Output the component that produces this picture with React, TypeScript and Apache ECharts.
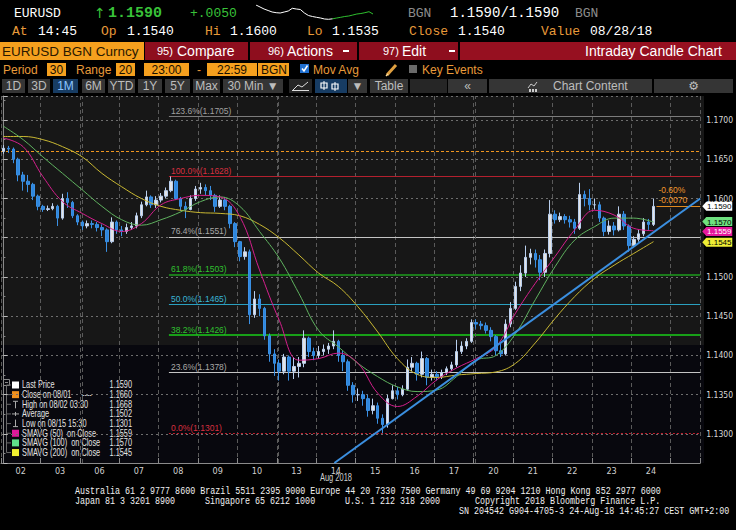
import React, { useEffect, useRef } from "react";
import * as echarts from "echarts";

// ---------------- data ----------------
const dayLabels = ["02", "03", "06", "07", "08", "09", "10", "13", "14", "15", "16", "17", "20", "21", "22", "23", "24"];
const slotsPerDay = 8; // 3-hour candles
const totalSlots = 142;
const firstOpen = 1.166;

const closes = [
  1.1664, 1.1663, 1.165, 1.163, 1.1622, 1.1618, 1.1603, 1.159,
  1.1586, 1.1587, 1.159, 1.1575, 1.16, 1.1595, 1.1578, 1.157,
  1.1565, 1.1568, 1.1567, 1.1563, 1.156, 1.1545, 1.157, 1.156,
  1.1558, 1.1563, 1.1565, 1.1578, 1.1592, 1.1602, 1.1592, 1.1598,
  1.1603, 1.161, 1.1622, 1.16, 1.159, 1.1586, 1.16, 1.1612,
  1.1614, 1.161, 1.1604, 1.159, 1.1598, 1.159, 1.1568, 1.1545,
  1.1526, 1.1532, 1.1452, 1.1472, 1.146, 1.1425, 1.1402, 1.139,
  1.138, 1.1398, 1.138, 1.1386, 1.139, 1.1422, 1.1405, 1.14,
  1.1405, 1.1408, 1.1412, 1.1418, 1.14, 1.1392, 1.1362, 1.135,
  1.135, 1.1345, 1.133, 1.1336, 1.132, 1.1312, 1.1345, 1.1355,
  1.135, 1.1357, 1.1385, 1.139, 1.1376, 1.1396, 1.1372, 1.1376,
  1.1373, 1.1378, 1.1383, 1.1388, 1.1405, 1.1412, 1.1418, 1.1442,
  1.144, 1.1438, 1.1432, 1.1424, 1.1406, 1.1402, 1.144, 1.146,
  1.1488, 1.1505, 1.1525, 1.153, 1.1522, 1.1506, 1.153, 1.158,
  1.1573, 1.1577, 1.1573, 1.157, 1.1562, 1.1605, 1.16, 1.1592,
  1.1592, 1.1575, 1.1558, 1.1565, 1.156, 1.158, 1.1565, 1.154,
  1.1548, 1.1555, 1.157, 1.1567, 1.159,
];
const highs = [
  1.1668, 1.1667, 1.1665, 1.1652, 1.1634, 1.163, 1.162, 1.1605,
  1.1592, 1.1591, 1.1594, 1.1592, 1.1606, 1.1608, 1.1597, 1.158,
  1.1572, 1.1572, 1.1572, 1.157, 1.1567, 1.1562, 1.1576, 1.1572,
  1.1565, 1.1568, 1.157, 1.1582, 1.1596, 1.161, 1.1604, 1.1603,
  1.1607, 1.1614, 1.1628, 1.1624, 1.1602, 1.1596, 1.1604, 1.1616,
  1.162, 1.1618, 1.1616, 1.1606, 1.1604, 1.1602, 1.1592, 1.157,
  1.1546, 1.1538, 1.1535, 1.1482, 1.1478, 1.1462, 1.1428, 1.1408,
  1.1395, 1.1402, 1.14, 1.1398, 1.1398, 1.1432, 1.1424, 1.141,
  1.1412, 1.1414, 1.1416, 1.1432, 1.142, 1.1406, 1.1395, 1.1366,
  1.1358, 1.1355, 1.135, 1.1345, 1.134, 1.1325, 1.135, 1.1362,
  1.136, 1.1362, 1.1395, 1.1398, 1.1392, 1.1405, 1.1398, 1.1382,
  1.138, 1.1382, 1.1386, 1.1392, 1.142, 1.1418, 1.1422, 1.1446,
  1.1446, 1.1444, 1.1442, 1.1436, 1.1426, 1.1415, 1.1446, 1.1468,
  1.1494, 1.1515, 1.154, 1.1536, 1.1535, 1.1528, 1.1535, 1.1598,
  1.1585, 1.1582, 1.158, 1.1578, 1.1574, 1.162, 1.161, 1.1612,
  1.16, 1.1596, 1.1577, 1.1572, 1.157, 1.159, 1.1584, 1.1567,
  1.1552, 1.156, 1.1575, 1.1574, 1.16,
];
const lows = [
  1.1657, 1.1658, 1.1645, 1.1622, 1.161, 1.1608, 1.1598, 1.1585,
  1.1583, 1.1584, 1.1585, 1.1565, 1.1573, 1.1588, 1.1575, 1.1566,
  1.156, 1.1562, 1.1562, 1.1558, 1.1552, 1.1532, 1.1543, 1.1555,
  1.1552, 1.1555, 1.156, 1.1562, 1.1575, 1.159, 1.1588, 1.1588,
  1.1595, 1.16, 1.1608, 1.1598, 1.1584, 1.1575, 1.1585, 1.1597,
  1.1606, 1.1604, 1.1598, 1.1583, 1.1588, 1.1585, 1.1562, 1.1538,
  1.152, 1.1522, 1.144, 1.1448, 1.145, 1.142, 1.1392, 1.1374,
  1.1368, 1.1376, 1.1368, 1.137, 1.1372, 1.1385, 1.1398, 1.1394,
  1.1396, 1.14, 1.1402, 1.1408, 1.1392, 1.138, 1.1355, 1.134,
  1.1342, 1.1336, 1.1322, 1.1325, 1.1313, 1.1301, 1.1308, 1.1344,
  1.1344, 1.1348, 1.1355, 1.138, 1.1368, 1.1372, 1.1362, 1.1368,
  1.1368, 1.137, 1.1375, 1.138, 1.1385, 1.1402, 1.1408, 1.1416,
  1.1434, 1.1433, 1.1428, 1.1418, 1.14, 1.1398, 1.14, 1.1436,
  1.1458, 1.1482, 1.15, 1.1516, 1.1512, 1.1496, 1.15, 1.1525,
  1.1568, 1.157, 1.1568, 1.1563, 1.1555, 1.156, 1.159, 1.1585,
  1.1586, 1.157, 1.1552, 1.1554, 1.1553, 1.1558, 1.156, 1.1532,
  1.1538, 1.1545, 1.1552, 1.156, 1.1565,
];

// moving averages read every 4 slots (slot index -> value)
const maSlots = [0, 4, 8, 12, 16, 20, 24, 28, 32, 36, 40, 44, 48, 52, 56, 60, 64, 68, 72, 76, 80, 84, 88, 92, 96, 100, 104, 108, 112, 116, 120, 124, 128, 132];
const sma50 = [1.1677, 1.1666, 1.1628, 1.1596, 1.1581, 1.1568, 1.1558, 1.1568, 1.1592, 1.16, 1.1604, 1.1602, 1.1577, 1.1509, 1.1445, 1.1394, 1.1396, 1.1403, 1.139, 1.1352, 1.1335, 1.1348, 1.1369, 1.1384, 1.1396, 1.1411, 1.1454, 1.1492, 1.1526, 1.156, 1.1585, 1.1579, 1.1562, 1.1559];
const sma100 = [1.1692, 1.1675, 1.1653, 1.1632, 1.1611, 1.159, 1.1573, 1.1566, 1.1573, 1.1583, 1.1596, 1.1602, 1.159, 1.1558, 1.1524, 1.1479, 1.1432, 1.1411, 1.139, 1.1373, 1.136, 1.1354, 1.1356, 1.1373, 1.1394, 1.14, 1.1428, 1.1471, 1.1513, 1.1547, 1.1564, 1.1575, 1.1575, 1.157];
const sma200 = [1.1679, 1.1679, 1.1675, 1.1666, 1.1653, 1.1632, 1.1615, 1.16, 1.159, 1.1585, 1.1582, 1.1581, 1.1578, 1.1567, 1.155, 1.1528, 1.1505, 1.1488, 1.1462, 1.143, 1.1396, 1.1376, 1.1372, 1.1375, 1.1377, 1.1379, 1.139, 1.1416, 1.1447, 1.1475, 1.1498, 1.1515, 1.153, 1.1545];

const trendPoints = [[67.2, 1.1263], [141.5, 1.16]];
const fibLevels = ["123.6%", "100.0%", "76.4%", "61.8%", "50.0%", "38.2%", "23.6%", "0.0%"];
const fibValues = [1.1705, 1.1628, 1.1551, 1.1503, 1.1465, 1.1426, 1.1378, 1.1301];
const fibStartSlot = 33.6;
const closeOn0801 = 1.166;
const lastPrice = 1.159;
const changeStartSlot = 132.6;
const weekendBoundaries = [15.9, 55.9, 95.9];

const legendLabels = ["Last Price", "Close on 08/01", "High on 08/02 03:30", "Average", "Low on 08/15 15:30", "SMAVG (50)  on Close", "SMAVG (100)  on Close", "SMAVG (200)  on Close"];
const legendValues = [1.159, 1.166, 1.1668, 1.1502, 1.1301, 1.1559, 1.157, 1.1545];

const sparkLevels = [15, 13, 11, 9.5, 8, 7.3, 7, 8, 9, 11.7, 11, 10.5, 7, 4.5, 3.5, 2.7, 2, 1, 0.7, 1.2, 2, 2.7, 3.5, 4, 5, 6, 6.5, 7.3, 8.3, 6];
const sparkSplit = 19;

// ---------------- styling helpers ----------------
const NARROW = "'Liberation Sans Narrow', 'Arial Narrow', 'DejaVu Sans Condensed', sans-serif";
const SANS = "'Liberation Sans', Arial, sans-serif";
const MONO = "'Liberation Mono', 'DejaVu Sans Mono', monospace";
const ORANGE = "#e89a3a";
const BTN_ORANGE = "#f5a01e";
const BTN_RED = "#8e0e1e";
const Y_MIN = 1.1263;
const Y_MAX = 1.17306;

function txt(text: string, x: number, y: number, fill: string, fontSize: number, fontFamily: string, extra: any = {}, el: any = {}) {
  return { type: "text", x, y, silent: true, ...el, style: { text, fill, fontSize, fontFamily, verticalAlign: "middle", align: "left", ...extra } };
}
function box(x: number, y: number, w: number, h: number, fill: string, extra: any = {}, el: any = {}) {
  return { type: "rect", silent: true, ...el, shape: { x, y, width: w, height: h }, style: { fill, ...extra } };
}
function seg(x1: number, y1: number, x2: number, y2: number, stroke: string, lineWidth = 1, extra: any = {}) {
  return { type: "line", silent: true, shape: { x1, y1, x2, y2 }, style: { stroke, lineWidth, ...extra } };
}

function buildGraphics() {
  const g: any[] = [];
  // plot background bands
  g.push(box(1, 96, 703, 249, "#171717", {}, { z: -10 }));
  g.push(box(1, 345, 703, 118, "#08080e", {}, { z: -10 }));

  // header row 1
  g.push(txt("EURUSD", 14, 13, "#ffffff", 13, MONO));
  g.push(txt("\u2191", 94, 13, "#39c239", 14, "'DejaVu Sans', sans-serif"));
  g.push(txt(lastPrice.toFixed(4), 108, 13, "#39c239", 15, MONO, { fontWeight: "bold" }));
  g.push(txt("+.0050", 190, 13, "#39c239", 13, MONO));
  g.push(txt("BGN", 408, 13, "#8c8c8c", 13, MONO));
  g.push(txt(lastPrice.toFixed(4) + "/" + lastPrice.toFixed(4), 450, 13, "#ffffff", 14, MONO));
  g.push(txt("BGN", 575, 13, "#8c8c8c", 13, MONO));

  // header row 2
  const row2: [string, number, string, number][] = [
    ["At", 12, "14:45", 38], ["Op", 101, "1.1540", 127], ["Hi", 205, "1.1600", 230],
    ["Lo", 307, "1.1535", 332], ["Close", 409, "1.1540", 458], ["Value", 541, "08/28/18", 590],
  ];
  row2.forEach(([l, lx, v, vx]) => {
    g.push(txt(l, lx, 31, ORANGE, 13, MONO));
    g.push(txt(v, vx, 31, "#ffffff", 13, MONO));
  });

  // row 3 buttons
  g.push(box(0, 42, 144, 18, BTN_ORANGE));
  g.push(txt("EURUSD BGN Curncy", 2, 51, "#2a1800", 13.5, SANS));
  g.push(box(145, 42, 103, 18, BTN_RED));
  g.push(txt("95)", 157, 51, "#ffffff", 11, SANS));
  g.push(txt("Compare", 177, 51, "#ffffff", 14, SANS));
  g.push(box(250, 42, 107, 18, BTN_RED));
  g.push(txt("96)", 268, 51, "#ffffff", 11, SANS));
  g.push(txt("Actions", 287, 51, "#ffffff", 14, SANS));
  g.push(box(343, 50, 6, 2, "#ffffff"));
  g.push(box(359, 42, 99, 18, BTN_RED));
  g.push(txt("97)", 383, 51, "#ffffff", 11, SANS));
  g.push(txt("Edit", 402, 51, "#ffffff", 14, SANS));
  g.push(box(449, 50, 6, 2, "#ffffff"));
  g.push(box(460, 42, 276, 18, "#961020"));
  g.push(txt("Intraday Candle Chart", 722, 51, "#ffffff", 14, SANS, { align: "right" }));

  // row 4
  g.push(txt("Period", 3, 69.5, ORANGE, 12, SANS));
  const obox: [number, number, string, boolean][] = [[47, 19, "30", true], [116, 19, "20", true], [144, 45, "23:00", true], [207, 50, "22:59", true], [258, 31, "BGN", false]];
  obox.forEach(([x, w, t, c]) => {
    g.push(box(x, 63, w, 13, BTN_ORANGE));
    g.push(c ? txt(t, x + w / 2, 69.5, "#1a1000", 12, SANS, { align: "center" }) : txt(t, x + 3, 69.5, "#1a1000", 12, SANS));
  });
  g.push(txt("Range", 76, 69.5, ORANGE, 12, SANS));
  g.push(txt("-", 197, 69.5, ORANGE, 12, SANS));
  g.push(box(300, 64, 9, 9, "#1f6fd0"));
  g.push({ type: "polyline", silent: true, shape: { points: [[302, 68.5], [304, 71], [307.5, 65.5]] }, style: { stroke: "#ffffff", lineWidth: 1.5, fill: "none" } });
  g.push(txt("Mov Avg", 313, 69.5, ORANGE, 12, SANS));
  g.push(seg(387, 75, 396, 65, "#e0a040", 3));
  g.push(seg(386, 76, 388, 74, "#ffe0a0", 1.5));
  g.push(box(409, 65, 8, 8, "#6a6a6a"));
  g.push(txt("Key Events", 422, 69.5, ORANGE, 12, SANS));

  // row 5 toolbar
  const btns: [number, number, string, number][] = [
    [2, 23, "1D", 0], [28, 22, "3D", 0], [53, 25, "1M", 1], [82, 23, "6M", 0], [108, 27, "YTD", 0],
    [138, 24, "1Y", 0], [165, 25, "5Y", 0], [193, 27, "Max", 0], [223, 60, "30 Min \u25BC", 0],
    [289, 23, "", 2], [315, 32, "", 1], [348, 19, "\u25BC", 0], [370, 38, "Table", 0], [410, 37, "", 2],
    [448, 39, "\u00AB", 0], [489, 163, "Chart Content", 0], [654, 79, "\u2699", 0],
  ];
  btns.forEach(([x, w, t, k]) => {
    const fill = k === 1 ? "#173c63" : k === 2 ? "#262626" : "#353535";
    g.push(box(x, 79, w, 14, fill));
    if (t) {
      const col = k === 1 ? "#8cc4ff" : "#bdbdbd";
      const fam = t === "\u2699" ? "'DejaVu Sans', sans-serif" : SANS;
      if (t === "Chart Content") g.push(txt(t, 553, 86, col, 12, fam));
      else g.push(txt(t, x + w / 2, 86, col, 12, fam, { align: "center" }));
    }
  });
  g.push({ type: "polyline", silent: true, shape: { points: [[293, 90], [298, 85], [302, 87], [308, 82]] }, style: { stroke: "#dddddd", lineWidth: 1, fill: "none" } });
  g.push(seg(292, 90.5, 309, 90.5, "#dddddd", 1));
  [[324, 82, 89], [335, 83, 90]].forEach(([cx, a, b]) => {
    g.push(seg(cx, a - 1, cx, b + 1, "#ffffff", 1));
    g.push(box(cx - 3, a + 1, 6, b - a - 2, "none", { stroke: "#ffffff", lineWidth: 1.2 }));
  });
  g.push({ type: "polyline", silent: true, shape: { points: [[528, 88], [531, 84], [534, 86], [537, 82]] }, style: { stroke: "#cccccc", lineWidth: 1, fill: "none" } });
  [529, 532, 535].forEach((x) => g.push(box(x, 89, 2, 3, "#cccccc")));

  // legend (bottom-left)
  const ly0 = 385;
  const dy = 9.65;
  g.push(box(3.5, 379.5, 6, 6, "none", { stroke: "#8a8a8a", lineWidth: 1 }));
  g.push(seg(5, 382.5, 8, 382.5, "#8a8a8a", 1));
  g.push(seg(6.5, 385.5, 6.5, ly0 + dy * 7, "#6a6a6a", 1));
  const sq = ["#ffffff", "#f0901e", null, null, null, "#e0189a", "#5fe08a", "#eeee30"];
  legendLabels.forEach((lab, k) => {
    const y = ly0 + dy * k;
    g.push(seg(6.5, y, 11, y, "#6a6a6a", 1));
    const c = sq[k];
    if (c) g.push(box(12, y - 3.5, 7, 7, c));
    else if (k === 2) { g.push(seg(15.5, y - 3, 15.5, y + 4, "#aaaaaa", 1)); g.push(seg(13, y - 3, 18, y - 3, "#aaaaaa", 1)); }
    else if (k === 3) { g.push(seg(12, y, 19, y, "#aaaaaa", 1)); g.push(seg(15.5, y - 2, 15.5, y + 2, "#aaaaaa", 1)); }
    else { g.push(seg(15.5, y - 4, 15.5, y + 3, "#aaaaaa", 1)); g.push(seg(13, y + 3, 18, y + 3, "#aaaaaa", 1)); }
    g.push(txt(lab, 22, y, "#e4e4e4", 10.5, SANS, { lineHeight: 9 }, { scaleX: 0.7 }));
    if (k === 1) g.push(txt("----", 82, y, "#cfcfcf", 10.5, SANS, { lineHeight: 9 }, { scaleX: 0.7 }));
    g.push(txt(legendValues[k].toFixed(4), 132, y, "#e4e4e4", 10.5, SANS, { align: "right", lineHeight: 9 }, { scaleX: 0.7 }));
  });

  // x-axis year label
  g.push(txt("Aug 2018", 336, 478, "#d0d0d0", 10, SANS, { align: "center" }, { scaleX: 0.75 }));

  // footer
  const foot = (t: string, x: number, y: number) => g.push(txt(t, x, y, "#f0f0f0", 10, MONO, {}, { scaleX: 0.835 }));
  foot("Australia 61 2 9777 8600 Brazil 5511 2395 9000 Europe 44 20 7330 7500 Germany 49 69 9204 1210 Hong Kong 852 2977 6000", 75, 491);
  foot("Japan 81 3 3201 8900", 75, 501);
  foot("Singapore 65 6212 1000", 205, 501);
  foot("U.S. 1 212 318 2000", 345, 501);
  foot("Copyright 2018 Bloomberg Finance L.P.", 475, 501);
  foot("SN 204542 G904-4705-3 24-Aug-18 14:45:27 CEST GMT+2:00", 459, 511);
  return g;
}

function badge(value: number, bg: string, fg: string, dyOff = 0) {
  return {
    coord: [totalSlots - 0.5, value],
    value,
    symbol: "path://M0,4.5 L4,0 L30,0 L30,9 L4,9 Z",
    symbolSize: [30, 9],
    symbolOffset: [17, dyOff],
    itemStyle: { color: bg },
    label: { show: true, position: "inside", offset: [2, 0.5], color: fg, fontSize: 8, lineHeight: 8, fontFamily: SANS, formatter: () => value.toFixed(4) },
  };
}

function buildOption() {
  const categories = Array.from({ length: totalSlots }, (_, i) => {
    const d = Math.floor(i / slotsPerDay);
    return i % slotsPerDay === 4 && d < dayLabels.length ? dayLabels[d] : "";
  });
  const candles = closes.map((c, i) => [i === 0 ? firstOpen : closes[i - 1], c, lows[i], highs[i]]);
  const ma = (arr: number[]) => maSlots.map((s, k) => [s, arr[k]]);
  const dayBoundary = (idx: number) => idx % slotsPerDay === 0;
  const badgeValues = [lastPrice, sma50[sma50.length - 1], sma100[sma100.length - 1], sma200[sma200.length - 1]];
  // axis labels that sit under a value badge are covered in the reference
  const axisLabelFmt = (v: number) => (badgeValues.some((b) => Math.abs(b - v) < 0.0007) ? "" : v.toFixed(4));

  const fibColors = [
    { line: "#7c7c7c", text: "#a0a0a0", type: "solid", w: 1 },
    { line: "#b4202e", text: "#d83040", type: "solid", w: 1 },
    { line: "#c4c4c4", text: "#a8a8a8", type: "solid", w: 1 },
    { line: "#1e9e1e", text: "#30c030", type: "solid", w: 1.5 },
    { line: "#2aa0c0", text: "#3ab6d6", type: "solid", w: 1 },
    { line: "#18a018", text: "#30c030", type: "solid", w: 2 },
    { line: "#c4c4c4", text: "#a8a8a8", type: "solid", w: 1 },
    { line: "#c0202e", text: "#d83040", type: [2, 2], w: 1 },
  ];
  const change = lastPrice - closeOn0801;
  const pct = (change / closeOn0801) * 100;

  const markLines: any[] = fibValues.map((v, k) => [
    {
      coord: [fibStartSlot, v],
      lineStyle: { color: fibColors[k].line, type: fibColors[k].type, width: fibColors[k].w },
      label: { show: true, position: "insideStartTop", distance: [2, 1], formatter: `${fibLevels[k]}(${v.toFixed(4)})`, color: fibColors[k].text, fontSize: 8.5, fontFamily: SANS },
    },
    { coord: [totalSlots - 0.5, v] },
  ]);
  markLines.push([
    { coord: [-0.5, closeOn0801], lineStyle: { color: "#f0961e", type: [3, 2], width: 1 }, label: { show: false } },
    { coord: [totalSlots - 0.5, closeOn0801] },
  ]);
  markLines.push([
    {
      coord: [changeStartSlot, lastPrice],
      lineStyle: { color: "#e08a20", type: "solid", width: 1 },
      label: { show: true, position: "insideStartTop", distance: [2, 1], formatter: `${pct.toFixed(2)}%\n${change.toFixed(4)}`, color: "#f0962a", fontSize: 8.5, lineHeight: 10, fontFamily: SANS, align: "left" },
    },
    { coord: [totalSlots - 0.5, lastPrice] },
  ]);
  weekendBoundaries.forEach((x) =>
    markLines.push([
      { coord: [x, Y_MIN], lineStyle: { color: "#5a5a5a", type: [4, 3], width: 1 }, label: { show: false } },
      { coord: [x, Y_MAX] },
    ])
  );

  return {
    animation: false,
    backgroundColor: "#000000",
    graphic: { elements: buildGraphics() },
    grid: [
      { left: 1, top: 96, width: 703, height: 367, show: false },
      { left: 256, top: 5, width: 117, height: 15, show: false },
    ],
    xAxis: [
      {
        type: "category", gridIndex: 0, data: categories, boundaryGap: true,
        axisLine: { show: true, lineStyle: { color: "#8a8a8a" } },
        axisTick: { show: true, inside: true, length: 5, interval: dayBoundary, lineStyle: { color: "#8a8a8a" } },
        axisLabel: { interval: 0, color: "#d0d0d0", fontSize: 9, fontFamily: NARROW, margin: 3, padding: [0, 5, 0, 0] },
        splitLine: { show: true, interval: dayBoundary, lineStyle: { color: "#5a5a5a", type: [4, 3], width: 1 } },
      },
      { type: "value", gridIndex: 0, min: -0.5, max: totalSlots - 0.5, show: false },
      { type: "category", gridIndex: 1, data: sparkLevels.map((_, i) => i), show: false, boundaryGap: false },
    ],
    yAxis: [
      {
        type: "value", gridIndex: 0, position: "right", min: Y_MIN, max: Y_MAX,
        minInterval: 0.005, maxInterval: 0.005, splitNumber: 9, scale: true,
        axisLine: { show: true, lineStyle: { color: "#8a8a8a" } },
        axisTick: { show: true, length: 4, lineStyle: { color: "#bbbbbb" } },
        minorTick: { show: true, splitNumber: 2, length: 2, lineStyle: { color: "#888888" } },
        minorSplitLine: { show: false },
        axisLabel: { color: "#d8d8d8", fontSize: 8.5, fontFamily: NARROW, margin: 6, showMinLabel: false, showMaxLabel: false, formatter: axisLabelFmt },
        splitLine: { show: true, lineStyle: { color: "#6e6e6e", type: [2, 3], width: 1 } },
      },
      { type: "value", gridIndex: 1, min: 0, max: 15, show: false },
    ],
    series: [
      {
        name: "Price", type: "candlestick", xAxisIndex: 0, yAxisIndex: 0, data: candles, barWidth: 3, z: 5,
        itemStyle: { color: "#e4e4e4", color0: "#2f87dd", borderColor: "#b9cfee", borderColor0: "#3a90e4", borderWidth: 1 },
      },
      {
        name: "SMAVG (200)", type: "line", xAxisIndex: 1, yAxisIndex: 0, data: ma(sma200), smooth: 0.4, showSymbol: false, clip: false, z: 6,
        lineStyle: { color: "#c9b832", width: 1 },
        markPoint: { silent: true, data: [badge(sma200[sma200.length - 1], "#eeee35", "#000000", 0.5)] },
      },
      {
        name: "SMAVG (100)", type: "line", xAxisIndex: 1, yAxisIndex: 0, data: ma(sma100), smooth: 0.4, showSymbol: false, clip: false, z: 6,
        lineStyle: { color: "#5fb25f", width: 1 },
        markPoint: { silent: true, data: [badge(sma100[sma100.length - 1], "#6ee07e", "#000000", -0.5)] },
      },
      {
        name: "SMAVG (50)", type: "line", xAxisIndex: 1, yAxisIndex: 0, data: ma(sma50), smooth: 0.4, showSymbol: false, clip: false, z: 6,
        lineStyle: { color: "#d41f8c", width: 1 },
        markPoint: { silent: true, data: [badge(sma50[sma50.length - 1], "#e6189c", "#ffffff", 0.8)] },
      },
      {
        name: "Trend", type: "line", xAxisIndex: 1, yAxisIndex: 0, data: trendPoints, showSymbol: false, clip: false, z: 7,
        lineStyle: { color: "#3b8fe0", width: 2 },
        markLine: { silent: true, symbol: ["none", "none"], data: markLines },
        markPoint: { silent: true, data: [badge(lastPrice, "#ffffff", "#000000")] },
      },
      {
        name: "sparkW", type: "line", xAxisIndex: 2, yAxisIndex: 1, showSymbol: false,
        data: sparkLevels.map((v, i) => (i <= sparkSplit ? v : null)), lineStyle: { color: "#ffffff", width: 1 },
      },
      {
        name: "sparkG", type: "line", xAxisIndex: 2, yAxisIndex: 1, showSymbol: false,
        data: sparkLevels.map((v, i) => (i >= sparkSplit ? v : null)), lineStyle: { color: "#2fbf2f", width: 1 },
      },
    ],
  };
}

export default function App() {
  const ref = useRef<HTMLDivElement>(null);
  useEffect(() => {
    if (!ref.current) return;
    const chart = echarts.init(ref.current, undefined, { renderer: "svg" });
    chart.setOption(buildOption() as any);
    return () => chart.dispose();
  }, []);
  return <div ref={ref} style={{ position: "fixed", left: 0, top: 0, width: 736, height: 530, background: "#000" }} />;
}
